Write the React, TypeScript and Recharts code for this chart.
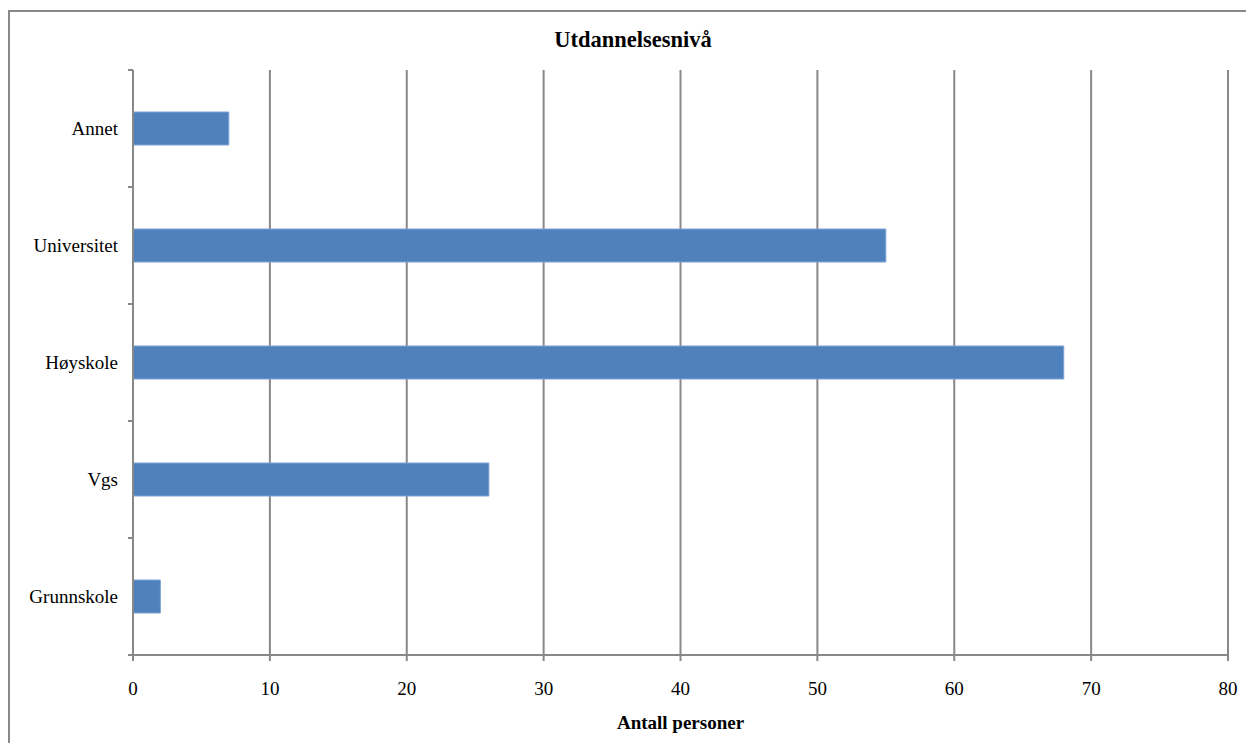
import { BarChart, Bar, XAxis, YAxis, CartesianGrid } from 'recharts'

const categories = ['Annet', 'Universitet', 'Høyskole', 'Vgs', 'Grunnskole']
const counts = [7, 55, 68, 26, 2]
const xTicks = [0, 10, 20, 30, 40, 50, 60, 70, 80]

const data = categories.map((name, i) => ({ name, value: counts[i] }))

const FONT = '"Liberation Serif", "DejaVu Serif", serif'
const GRID = '#888888'
const PLOT_TOP = 70
const PLOT_BOTTOM = 655
const BAND = (PLOT_BOTTOM - PLOT_TOP) / categories.length

function CategoryTick(props: any) {
  const { x, y, payload, index } = props
  const last = index === categories.length - 1
  return (
    <g>
      <line x1={x - 5} x2={x} y1={y - BAND / 2} y2={y - BAND / 2} stroke={GRID} strokeWidth={2} />
      {last && (
        <line x1={x - 5} x2={x} y1={y + BAND / 2} y2={y + BAND / 2} stroke={GRID} strokeWidth={2} />
      )}
      <text x={x - 15} y={y} dy="0.35em" textAnchor="end" fontSize={19} fontFamily={FONT} fill="#000">
        {payload.value}
      </text>
    </g>
  )
}

export default function App() {
  return (
    <div style={{ position: 'absolute', left: 0, top: 0, width: 1246, height: 743, overflow: 'hidden', background: '#fff' }}>
      <div
        style={{
          position: 'absolute',
          left: 8,
          top: 10,
          width: 1260,
          height: 760,
          border: `2px solid ${GRID}`,
          boxSizing: 'border-box',
        }}
      />
      <div
        style={{
          position: 'absolute',
          left: 0,
          width: 1266,
          top: 27,
          textAlign: 'center',
          fontFamily: FONT,
          fontWeight: 'bold',
          fontSize: 22.5,
        }}
      >
        Utdannelsesnivå
      </div>
      <div style={{ position: 'absolute', left: 0, top: 0 }}>
        <BarChart
          width={1246}
          height={743}
          data={data}
          layout="vertical"
          margin={{ top: PLOT_TOP, right: 18, bottom: 0, left: 0 }}
          barSize={33}
        >
          <CartesianGrid horizontal={false} stroke={GRID} strokeWidth={2} />
          <XAxis
            type="number"
            domain={[0, 80]}
            ticks={xTicks}
            interval={0}
            height={743 - PLOT_BOTTOM}
            tick={{ fill: '#000', fontSize: 19, fontFamily: FONT }}
            tickLine={{ stroke: GRID, strokeWidth: 2 }}
            tickSize={6}
            tickMargin={21}
            axisLine={{ stroke: GRID, strokeWidth: 2 }}
            label={{
              value: 'Antall personer',
              position: 'insideBottom',
              offset: 14,
              fill: '#000',
              fontSize: 19,
              fontWeight: 'bold',
              fontFamily: FONT,
            }}
          />
          <YAxis
            type="category"
            dataKey="name"
            width={133}
            tickLine={false}
            tickSize={0}
            tickMargin={0}
            axisLine={{ stroke: GRID, strokeWidth: 2 }}
            tick={<CategoryTick />}
            interval={0}
          />
          <Bar dataKey="value" fill="#4F81BD" stroke="#7EA3D3" strokeWidth={1} isAnimationActive={false} />
        </BarChart>
      </div>
    </div>
  )
}
